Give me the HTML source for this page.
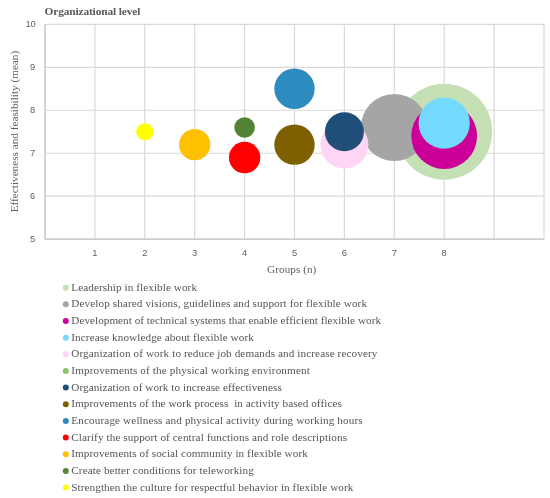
<!DOCTYPE html>
<html><head><meta charset="utf-8"><title>Organizational level</title>
<style>
html,body{margin:0;padding:0;background:#fff;}
body{width:550px;height:498px;overflow:hidden;}
svg{display:block;}
.ser{font-family:"Liberation Serif",serif;}
.san{font-family:"Liberation Sans",sans-serif;}
</style></head><body>
<svg width="550" height="498" viewBox="0 0 550 498">
<rect width="550" height="498" fill="#ffffff"/>

<g stroke="#d9d9d9" stroke-width="1.2" fill="none">
<line x1="45.00" y1="24.30" x2="45.00" y2="239.20"/>
<line x1="94.90" y1="24.30" x2="94.90" y2="239.20"/>
<line x1="144.80" y1="24.30" x2="144.80" y2="239.20"/>
<line x1="194.70" y1="24.30" x2="194.70" y2="239.20"/>
<line x1="244.60" y1="24.30" x2="244.60" y2="239.20"/>
<line x1="294.50" y1="24.30" x2="294.50" y2="239.20"/>
<line x1="344.40" y1="24.30" x2="344.40" y2="239.20"/>
<line x1="394.30" y1="24.30" x2="394.30" y2="239.20"/>
<line x1="444.20" y1="24.30" x2="444.20" y2="239.20"/>
<line x1="494.10" y1="24.30" x2="494.10" y2="239.20"/>
<line x1="544.00" y1="24.30" x2="544.00" y2="239.20"/>
<line x1="45.00" y1="239.20" x2="544.00" y2="239.20"/>
<line x1="45.00" y1="196.22" x2="544.00" y2="196.22"/>
<line x1="45.00" y1="153.24" x2="544.00" y2="153.24"/>
<line x1="45.00" y1="110.26" x2="544.00" y2="110.26"/>
<line x1="45.00" y1="67.28" x2="544.00" y2="67.28"/>
<line x1="45.00" y1="24.30" x2="544.00" y2="24.30"/>
<path d="M45.00 24.30V239.20H544.00" stroke="#c6c6c6"/>
</g>
<circle cx="444.20" cy="131.75" r="48" fill="#c5e0b4"/>
<circle cx="394.30" cy="127.45" r="33.5" fill="#a5a5a5"/>
<circle cx="444.20" cy="136.05" r="32.9" fill="#cc0099"/>
<circle cx="444.20" cy="123.15" r="25.6" fill="#74dafd"/>
<circle cx="344.40" cy="144.64" r="24" fill="#ffd5f5"/>
<circle cx="344.40" cy="131.75" r="19.5" fill="#1f4e79"/>
<circle cx="294.50" cy="144.64" r="20.2" fill="#7f6000"/>
<circle cx="294.50" cy="88.77" r="20.2" fill="#2e8bc0"/>
<circle cx="244.60" cy="157.54" r="15.7" fill="#ff0000"/>
<circle cx="194.70" cy="144.64" r="15.6" fill="#ffc000"/>
<circle cx="244.60" cy="127.45" r="10.3" fill="#548235"/>
<circle cx="144.80" cy="131.75" r="8.6" fill="#ffff00"/>
<g opacity="0.999">
<text class="ser" x="44.5" y="14.6" font-size="11.4" font-weight="bold" fill="#595959" textLength="95.8" lengthAdjust="spacing">Organizational level</text>
<g class="san" font-size="9.4" fill="#606060" text-anchor="end">
<text x="35.3" y="242.20">5</text>
<text x="35.3" y="199.22">6</text>
<text x="35.3" y="156.24">7</text>
<text x="35.3" y="113.26">8</text>
<text x="35.3" y="70.28">9</text>
<text x="35.3" y="27.30" letter-spacing="-0.3">10</text>
</g>
<g class="san" font-size="9.4" fill="#606060" text-anchor="middle">
<text x="94.90" y="255.8">1</text>
<text x="144.80" y="255.8">2</text>
<text x="194.70" y="255.8">3</text>
<text x="244.60" y="255.8">4</text>
<text x="294.50" y="255.8">5</text>
<text x="344.40" y="255.8">6</text>
<text x="394.30" y="255.8">7</text>
<text x="444.20" y="255.8">8</text>
</g>
<text class="ser" font-size="11.2" fill="#606060" x="267.1" y="273.3" textLength="49.2" lengthAdjust="spacing">Groups (n)</text>
<text class="ser" font-size="11.2" fill="#606060" transform="translate(18.0,212.3) rotate(-90)" textLength="161.5" lengthAdjust="spacing">Effectiveness and feasibility (mean)</text>
<circle cx="65.8" cy="287.65" r="3" fill="#c5e0b4"/>
<text class="ser" font-size="11.2" fill="#555555" x="71.3" y="290.75" textLength="125.7" lengthAdjust="spacing">Leadership in flexible work</text>
<circle cx="65.8" cy="304.31" r="3" fill="#a5a5a5"/>
<text class="ser" font-size="11.2" fill="#555555" x="71.3" y="307.41" textLength="295.7" lengthAdjust="spacing">Develop shared visions, guidelines and support for flexible work</text>
<circle cx="65.8" cy="320.97" r="3" fill="#cc0099"/>
<text class="ser" font-size="11.2" fill="#555555" x="71.3" y="324.07" textLength="309.7" lengthAdjust="spacing">Development of technical systems that enable efficient flexible work</text>
<circle cx="65.8" cy="337.63" r="3" fill="#74dafd"/>
<text class="ser" font-size="11.2" fill="#555555" x="71.3" y="340.73" textLength="182.5" lengthAdjust="spacing">Increase knowledge about flexible work</text>
<circle cx="65.8" cy="354.29" r="3" fill="#ffd5f5"/>
<text class="ser" font-size="11.2" fill="#555555" x="71.3" y="357.39" textLength="306.1" lengthAdjust="spacing">Organization of work to reduce job demands and increase recovery</text>
<circle cx="65.8" cy="370.95" r="3" fill="#92c36a"/>
<text class="ser" font-size="11.2" fill="#555555" x="71.3" y="374.05" textLength="238.5" lengthAdjust="spacing">Improvements of the physical working environment</text>
<circle cx="65.8" cy="387.61" r="3" fill="#1f4e79"/>
<text class="ser" font-size="11.2" fill="#555555" x="71.3" y="390.71" textLength="210.5" lengthAdjust="spacing">Organization of work to increase effectiveness</text>
<circle cx="65.8" cy="404.27" r="3" fill="#7f6000"/>
<text class="ser" font-size="11.2" fill="#555555" x="71.3" y="407.37" textLength="270.5" lengthAdjust="spacing">Improvements of the work process  in activity based offices</text>
<circle cx="65.8" cy="420.93" r="3" fill="#2e8bc0"/>
<text class="ser" font-size="11.2" fill="#555555" x="71.3" y="424.03" textLength="291.3" lengthAdjust="spacing">Encourage wellness and physical activity during working hours</text>
<circle cx="65.8" cy="437.59" r="3" fill="#ff0000"/>
<text class="ser" font-size="11.2" fill="#555555" x="71.3" y="440.69" textLength="275.7" lengthAdjust="spacing">Clarify the support of central functions and role descriptions</text>
<circle cx="65.8" cy="454.25" r="3" fill="#ffc000"/>
<text class="ser" font-size="11.2" fill="#555555" x="71.3" y="457.35" textLength="236.5" lengthAdjust="spacing">Improvements of social community in flexible work</text>
<circle cx="65.8" cy="470.91" r="3" fill="#548235"/>
<text class="ser" font-size="11.2" fill="#555555" x="71.3" y="474.01" textLength="182.5" lengthAdjust="spacing">Create better conditions for teleworking</text>
<circle cx="65.8" cy="487.57" r="3" fill="#ffff00"/>
<text class="ser" font-size="11.2" fill="#555555" x="71.3" y="490.67" textLength="282.1" lengthAdjust="spacing">Strengthen the culture for respectful behavior in flexible work</text>
</g></svg></body></html>
